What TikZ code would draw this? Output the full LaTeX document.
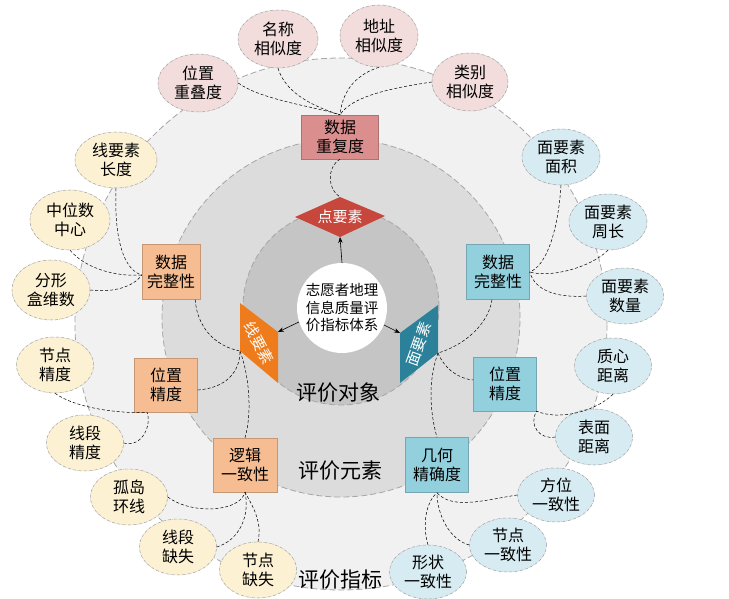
\documentclass[tikz,border=0pt]{standalone}
\usepackage{fontspec}
\setmainfont{Noto Sans CJK SC}
\usetikzlibrary{shapes.geometric,arrows.meta}
\definecolor{ringA}{HTML}{F1F1F1}
\definecolor{ringB}{HTML}{DCDCDC}
\definecolor{ringC}{HTML}{C5C5C5}
\definecolor{pinkbox}{HTML}{DA8E8E}
\definecolor{orgbox}{HTML}{F7BD92}
\definecolor{tealbox}{HTML}{93D0DD}
\definecolor{pinkel}{HTML}{F2DCDC}
\definecolor{yelel}{HTML}{FCF1D2}
\definecolor{bluel}{HTML}{D7ECF2}
\definecolor{redface}{HTML}{C8473C}
\definecolor{orgface}{HTML}{EE7C1C}
\definecolor{tealface}{HTML}{2B8199}
\tikzset{
  ell/.style={ellipse, draw=gray!75, densely dashdotted, line width=0.5pt, inner sep=0pt,
    align=center, minimum width=77pt, minimum height=56pt, font=\fontsize{16}{19.5}\selectfont},
  catbox/.style={rectangle, draw=#1!80!black, fill=#1, line width=0.4pt, minimum width=63pt,
    minimum height=55pt, align=center, inner sep=0pt, font=\fontsize{16}{19.5}\selectfont},
  conn/.style={densely dashed, line width=0.5pt, black},
  ringline/.style={gray!70, line width=0.8pt, dash pattern=on 6pt off 3pt},
  biglab/.style={font=\fontsize{21}{24}\selectfont, inner sep=1pt},
  facelab/.style={text=white, inner sep=0pt, font=\fontsize{15}{17}\selectfont},
  arr/.style={-{Stealth[length=6pt,width=4.5pt]}, line width=0.6pt},
}
\begin{document}
\begin{tikzpicture}[x=1pt,y=-1pt]
\useasboundingbox (0,0) rectangle (729,599);
\fill[white] (0,0) rectangle (729,599);
% rings
\draw[ringline, fill=ringA] (341,324) circle[radius=266pt];
\draw[ringline, fill=ringB] (341,318) circle[radius=179pt];
\draw[ringline, fill=ringC] (341,307) circle[radius=98pt];
% ring labels
\node[biglab] (lab3) at (340,580) {评价指标};
\node[biglab] (lab2) at (340,471) {评价元素};
\node[biglab] (lab1) at (338,393) {评价对象};
% cube faces
\coordinate (ptL) at (295,217); \coordinate (ptT) at (340,197);
\coordinate (ptR) at (385,216); \coordinate (ptB) at (340,237);
\fill[redface] (ptL) -- (ptT) -- (ptR) -- (ptB) -- cycle;
\coordinate (lnA) at (240,303); \coordinate (lnB) at (278,332);
\coordinate (lnC) at (278,383); \coordinate (lnD) at (240,351);
\fill[orgface] (lnA) -- (lnB) -- (lnC) -- (lnD) -- cycle;
\coordinate (arE) at (400,333); \coordinate (arF) at (438,305);
\coordinate (arG) at (438,353); \coordinate (arH) at (400,383);
\fill[tealface] (arE) -- (arF) -- (arG) -- (arH) -- cycle;
\node[facelab] (ptlab) at (340,217) {点要素};
\node[facelab, rotate=-62] (lnlab) at (259,343) {线要素};
\node[facelab, rotate=70] (arlab) at (419,344) {面要素};
% center
\node[circle, fill=white, minimum size=90pt, inner sep=0pt, align=center,
  font=\fontsize{14.5}{17.5}\selectfont] (ctr) at (342,308) {志愿者地理\\信息质量评\\价指标体系};
\draw[arr] (ctr.north) -- (ptB);
\draw[arr] (ctr.-162) -- (lnB);
\draw[arr] (ctr.-22) -- (arE);
% category boxes
\node[catbox=pinkbox, minimum width=77pt, minimum height=44pt] (rep) at (340,137) {数据\\重复度};
\node[catbox=orgbox, minimum width=58pt] (ol1) at (171,272) {数据\\完整性};
\node[catbox=orgbox, minimum height=54pt] (ol2) at (166,385) {位置\\精度};
\node[catbox=orgbox, minimum width=64pt, minimum height=54pt] (ol3) at (245,465) {逻辑\\一致性};
\node[catbox=tealbox] (ob1) at (498,272) {数据\\完整性};
\node[catbox=tealbox, minimum height=54pt] (ob2) at (505,384) {位置\\精度};
\node[catbox=tealbox] (ob3) at (437,465) {几何\\精确度};
% pink ellipses
\node[ell, fill=pinkel, minimum width=80pt, minimum height=58pt] (p1) at (198,83) {位置\\重叠度};
\node[ell, fill=pinkel, minimum width=80pt, minimum height=58pt] (p2) at (278,39) {名称\\相似度};
\node[ell, fill=pinkel, minimum width=78pt, minimum height=62pt] (p3) at (379,36) {地址\\相似度};
\node[ell, fill=pinkel, minimum width=76pt, minimum height=58pt] (p4) at (470,82) {类别\\相似度};
% yellow ellipses
\node[ell, fill=yelel, minimum width=82pt] (y1) at (116,160) {线要素\\长度};
\node[ell, fill=yelel, minimum width=80pt, minimum height=60pt] (y2) at (70,220) {中位数\\中心};
\node[ell, fill=yelel, minimum width=78pt, minimum height=60pt] (y3) at (51,290) {分形\\盒维数};
\node[ell, fill=yelel] (y4) at (55,365) {节点\\精度};
\node[ell, fill=yelel] (y5) at (85,443) {线段\\精度};
\node[ell, fill=yelel] (y6) at (129,497) {孤岛\\环线};
\node[ell, fill=yelel] (y7) at (178,547) {线段\\缺失};
\node[ell, fill=yelel] (y8) at (258,570) {节点\\缺失};
% blue ellipses
\node[ell, fill=bluel, minimum width=78pt] (b1) at (561,157) {面要素\\面积};
\node[ell, fill=bluel, minimum width=78pt] (b2) at (608,222) {面要素\\周长};
\node[ell, fill=bluel] (b3) at (625,296) {面要素\\数量};
\node[ell, fill=bluel] (b4) at (613,366) {质心\\距离};
\node[ell, fill=bluel] (b5) at (594,437) {表面\\距离};
\node[ell, fill=bluel, minimum height=54pt] (b6) at (556,495) {方位\\一致性};
\node[ell, fill=bluel, minimum height=54pt] (b7) at (508,545) {节点\\一致性};
\node[ell, fill=bluel, minimum height=54pt] (b8) at (428,572) {形状\\一致性};
% connectors: top
\draw[conn] (p1.east) .. controls (262,100) and (312,106) .. (rep.north);
\draw[conn] (p2.south) .. controls (286,95) and (318,108) .. (rep.north);
\draw[conn] (p3.south) .. controls (352,76) and (342,95) .. (rep.north);
\draw[conn] (p4.west) .. controls (392,88) and (352,96) .. (rep.north);
\draw[conn] (rep.south) .. controls (326,168) and (328,190) .. (ptT);
% left
\draw[conn] ([xshift=-5pt]ol1.south east) .. controls (197,326) and (214,346) .. (lnD);
\draw[conn] ([yshift=-5pt]ol2.east) .. controls (226,388) and (240,372) .. (lnD);
\draw[conn] (ol3.north) .. controls (253,410) and (248,372) .. (lnD);
\draw[conn] (y1.south) .. controls (114,240) and (124,270) .. ([yshift=-3pt]ol1.west);
\draw[conn] (y2.south) .. controls (85,268) and (115,277) .. ([yshift=-3pt]ol1.west);
\draw[conn] (y3.east) .. controls (115,293) and (134,286) .. ([yshift=-3pt]ol1.west);
\draw[conn] (y4.south) .. controls (75,408) and (120,414) .. ([xshift=-19pt]ol2.south);
\draw[conn] (y5.east) .. controls (142,448) and (152,425) .. ([xshift=-19pt]ol2.south);
\draw[conn] (y6.east) .. controls (192,515) and (240,512) .. (ol3.south);
\draw[conn] (y7.east) .. controls (240,540) and (250,515) .. (ol3.south);
\draw[conn] (y8.north) .. controls (263,520) and (250,502) .. (ol3.south);
% right
\draw[conn] ([xshift=-6pt]ob1.south) .. controls (488,326) and (462,346) .. (arG);
\draw[conn] (arG) .. controls (445,370) and (460,379) .. ([yshift=4pt]ob2.west);
\draw[conn] (arG) .. controls (426,386) and (432,420) .. (ob3.north);
\draw[conn] (b1.south) .. controls (558,232) and (546,266) .. (ob1.east);
\draw[conn] (b2.south) .. controls (590,268) and (550,278) .. (ob1.east);
\draw[conn] (b3.west) .. controls (555,298) and (535,290) .. (ob1.east);
\draw[conn] (b4.south) .. controls (596,411) and (560,421) .. (ob2.south east);
\draw[conn] (b5.west) .. controls (540,440) and (528,425) .. (ob2.south east);
\draw[conn] (b6.west) .. controls (485,500) and (452,510) .. (ob3.south);
\draw[conn] (b7.west) .. controls (450,540) and (437,515) .. (ob3.south);
\draw[conn] (b8.north) .. controls (422,525) and (426,502) .. (ob3.south);
\end{tikzpicture}
\end{document}
